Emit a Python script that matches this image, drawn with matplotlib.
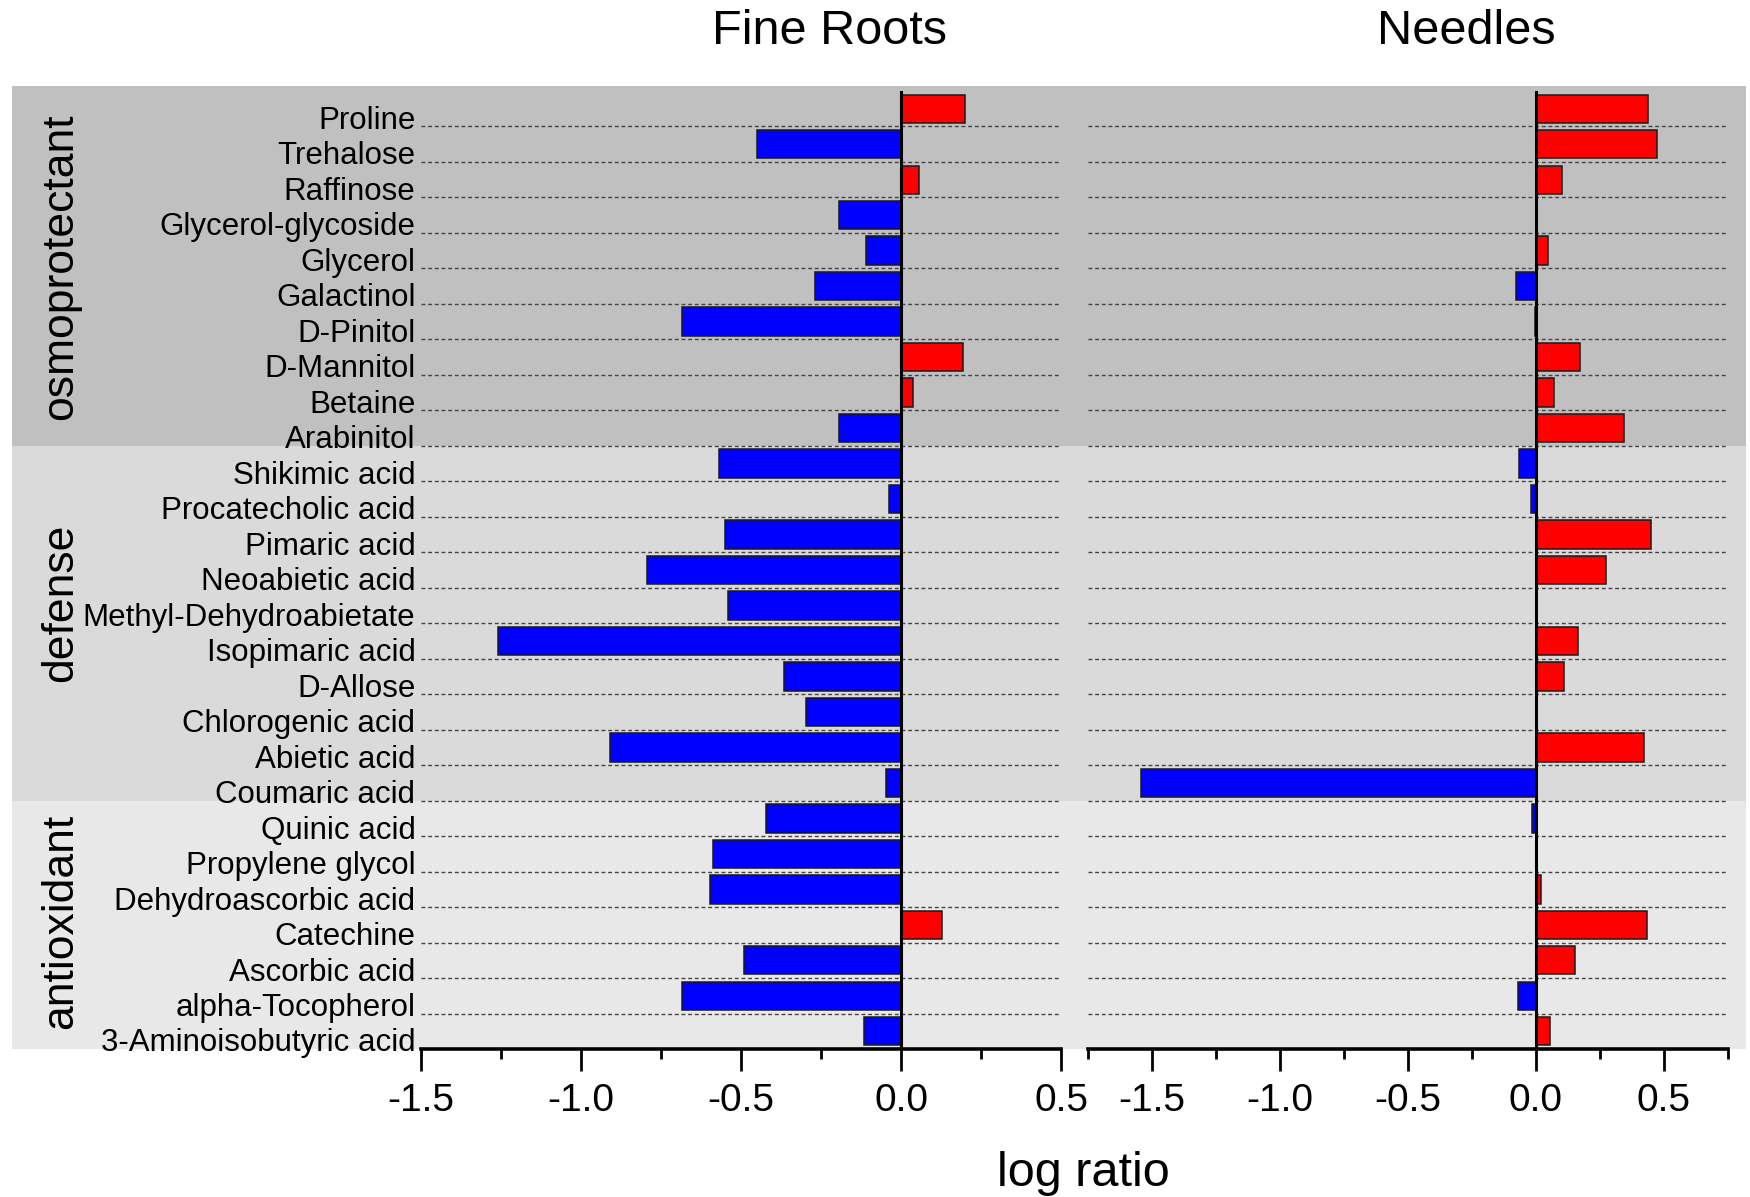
import matplotlib
matplotlib.use("Agg")
import matplotlib.pyplot as plt
from matplotlib.patches import Rectangle
from matplotlib.ticker import MultipleLocator
from matplotlib.transforms import blended_transform_factory, ScaledTranslation
import numpy as np

plt.rcParams["font.family"] = ["Liberation Sans", "DejaVu Sans"]
plt.rcParams["axes.unicode_minus"] = False

# =============================================================================
# Data
# =============================================================================

metabolites = [
    "Proline", "Trehalose", "Raffinose", "Glycerol-glycoside", "Glycerol",
    "Galactinol", "D-Pinitol", "D-Mannitol", "Betaine", "Arabinitol",
    "Shikimic acid", "Procatecholic acid", "Pimaric acid", "Neoabietic acid",
    "Methyl-Dehydroabietate", "Isopimaric acid", "D-Allose",
    "Chlorogenic acid", "Abietic acid", "Coumaric acid",
    "Quinic acid", "Propylene glycol", "Dehydroascorbic acid", "Catechine",
    "Ascorbic acid", "alpha-Tocopherol", "3-Aminoisobutyric acid",
]

groups = ["osmoprotectant", "defense", "antioxidant"]
group_sizes = [10, 10, 7]
group_colors = ["#c0c0c0", "#dadada", "#e8e8e8"]

fine_roots = [
    0.20, -0.45, 0.057, -0.195, -0.11, -0.27, -0.685, 0.194, 0.037, -0.195,
    -0.568, -0.036, -0.551, -0.795, -0.54, -1.26, -0.365, -0.298, -0.908,
    -0.048,
    -0.421, -0.588, -0.596, 0.129, -0.492, -0.685, -0.116,
]

needles = [
    0.4375, 0.474, 0.102, 0.0, 0.048, -0.079, -0.005, 0.173, 0.069, 0.344,
    -0.067, -0.018, 0.449, 0.275, 0.0, 0.163, 0.109, 0.0, 0.423, -1.543,
    -0.016, 0.0, 0.021, 0.434, 0.153, -0.071, 0.056,
]

panels = ["Fine Roots", "Needles"]
xlims = [(-1.5, 0.5), (-1.75, 0.75)]

# =============================================================================
# Figure
# =============================================================================

W, H = 1750, 1197
fig = plt.figure(figsize=(W / 100, H / 100), dpi=100)

top, bottom = 91, 1049
ax1 = fig.add_axes([421 / W, 1 - bottom / H, 640 / W, (bottom - top) / H])
ax2 = fig.add_axes([1088 / W, 1 - bottom / H, 640 / W, (bottom - top) / H])

y = np.arange(len(metabolites))

for ax, values, xlim in zip((ax1, ax2), (fine_roots, needles), xlims):
    colors = ["#ff0000" if v > 0 else "#0000ff" for v in values]
    ax.barh(y, values, height=0.8, color=colors, edgecolor="#1a1a1a",
            linewidth=1.1, zorder=2)
    ax.axvline(0, color="black", lw=2.2, zorder=3)
    ax.set_xlim(*xlim)
    ax.set_ylim(len(metabolites) - 0.5, -0.5)
    ax.patch.set_visible(False)
    for side in ("top", "right", "left"):
        ax.spines[side].set_visible(False)
    ax.spines["bottom"].set_linewidth(2.6)
    ax.xaxis.set_major_locator(MultipleLocator(0.5))
    ax.xaxis.set_minor_locator(MultipleLocator(0.25))
    ax.tick_params(axis="x", which="major", length=15.5, width=2.0,
                   labelsize=28, pad=9, direction="out")
    ax.tick_params(axis="x", which="minor", length=7.5, width=2.0,
                   direction="out")
    # labels sit on the row boundaries, like the original
    ax.set_yticks(y + 0.5)
    ax.tick_params(axis="y", length=0, pad=4)
    ax.yaxis.grid(True, ls=(0, (2.8, 2.0)), color="#444444", lw=1.0)
    ax.set_axisbelow(True)

ax1.set_yticklabels(metabolites, fontsize=22.5, va="baseline")
shift = ScaledTranslation(0, -2.5 / 100, fig.dpi_scale_trans)
for lab in ax1.get_yticklabels():
    lab.set_transform(lab.get_transform() + shift)
ax2.set_yticklabels([])

# group background bands (figure wide, rows in data units)
trans = blended_transform_factory(fig.transFigure, ax1.transData)
start = -0.5
for i, (name, n, c) in enumerate(zip(groups, group_sizes, group_colors)):
    y0 = start - (0.14 if i == 0 else 0)
    y1 = start + n
    fig.add_artist(Rectangle((12 / W, y0), (1746 - 12) / W, y1 - y0,
                             transform=trans, fc=c, ec="none", zorder=-1))
    start = y1

group_y = [267, 603, 921]
for name, gy in zip(groups, group_y):
    fig.text(72 / W, 1 - gy / H, name, rotation=90, rotation_mode="anchor",
             ha="center", va="baseline", fontsize=32)

fig.text(829 / W, 1 - 44 / H, panels[0], ha="center", va="baseline",
         fontsize=35)
fig.text(1466 / W, 1 - 44 / H, panels[1], ha="center", va="baseline",
         fontsize=35)
fig.text(1083 / W, 1 - 1186 / H, "log ratio", ha="center", va="baseline",
         fontsize=35)

fig.savefig("out.png", dpi=100)
